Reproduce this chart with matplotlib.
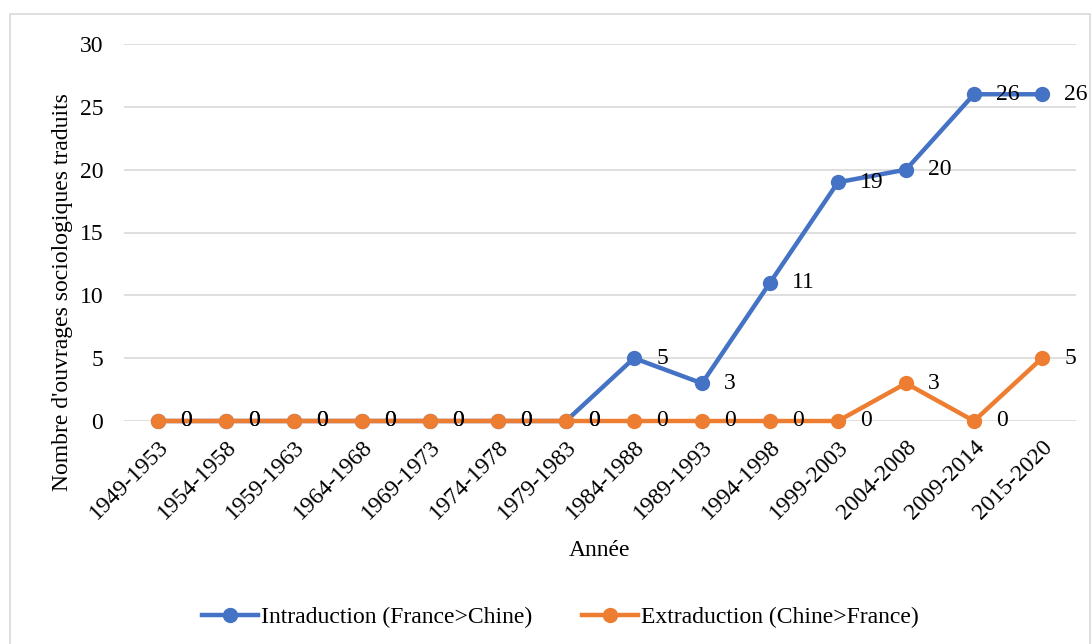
import matplotlib
matplotlib.use("Agg")
import matplotlib.pyplot as plt
from matplotlib.patches import Rectangle

categories = ["1949-1953", "1954-1958", "1959-1963", "1964-1968", "1969-1973",
              "1974-1978", "1979-1983", "1984-1988", "1989-1993", "1994-1998",
              "1999-2003", "2004-2008", "2009-2014", "2015-2020"]
intraduction = [0, 0, 0, 0, 0, 0, 0, 5, 3, 11, 19, 20, 26, 26]
extraduction = [0, 0, 0, 0, 0, 0, 0, 0, 0, 0, 0, 3, 0, 5]
yticks = [0, 5, 10, 15, 20, 25, 30]

plt.rcParams['font.family'] = ['Liberation Serif', 'DejaVu Serif']
FS = 17

fig = plt.figure(figsize=(10.92, 6.44), dpi=100)
fig.patches.append(Rectangle((10/1092, -0.01), (1090-10)/1092, 1 - 14/644 + 0.01,
                             transform=fig.transFigure, fill=False,
                             edgecolor='#d9d9d9', linewidth=1.2))
ax = fig.add_axes([124/1092, 1 - 421/644, (1076-124)/1092, (421-44)/644])

x = list(range(len(categories)))
blue = '#4472C4'
orange = '#ED7D31'
ax.plot(x, intraduction, color=blue, lw=3.2, marker='o', ms=10,
        label='Intraduction (France>Chine)', clip_on=False, zorder=3)
ax.plot(x, extraduction, color=orange, lw=3.2, marker='o', ms=10,
        label='Extraduction (Chine>France)', clip_on=False, zorder=4)

for xi, v in zip(x, intraduction):
    ax.annotate(str(v), (xi, v), xytext=(16, 0), textcoords='offset points',
                ha='left', va='center', fontsize=FS, zorder=5, annotation_clip=False)
for xi, v in zip(x, extraduction):
    ax.annotate(str(v), (xi, v), xytext=(16, 0), textcoords='offset points',
                ha='left', va='center', fontsize=FS, zorder=5, annotation_clip=False)

ax.set_xlim(-0.5, len(categories) - 0.5)
ax.set_ylim(0, 30)
ax.set_yticks(yticks)
ax.set_yticklabels([str(t) for t in yticks], fontsize=FS)
ax.set_xticks(x)
ax.set_xticklabels(categories, rotation=45, ha='right', rotation_mode='anchor', fontsize=FS)
ax.tick_params(axis='both', length=0)
ax.tick_params(axis='y', pad=15)
ax.tick_params(axis='x', pad=11)
ax.grid(axis='y', color='#d9d9d9', lw=1.2)
ax.set_axisbelow(True)
for s in ax.spines.values():
    s.set_visible(False)

fig.text(63/1092, 1 - 292/644, "Nombre d'ouvrages sociologiques traduits", rotation=90,
         ha='center', va='center', fontsize=FS)
fig.text(600/1092, 1 - 550/644, "Année", ha='center', va='center', fontsize=FS)

fig.legend(loc='center', bbox_to_anchor=(560/1092, 1 - 617/644), ncol=2, frameon=False,
           fontsize=17, handlelength=2.4, columnspacing=2.1, handletextpad=0.1)

fig.savefig('out.png', dpi=100)
